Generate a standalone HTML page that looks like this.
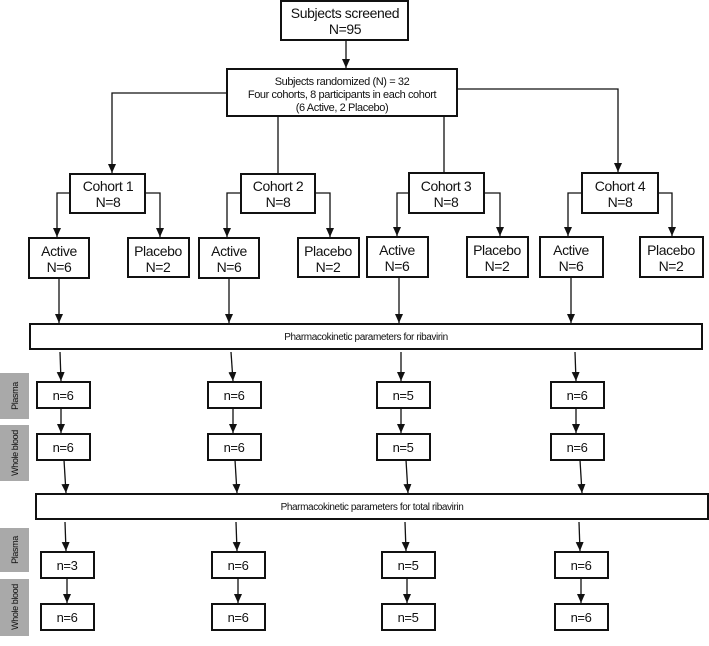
<!DOCTYPE html>
<html><head><meta charset="utf-8"><style>
html,body{margin:0;padding:0;background:#fff;}
svg text{font-family:"Liberation Sans Narrow","Liberation Sans",sans-serif;fill:#111;text-anchor:middle;letter-spacing:-0.4px;}
</style></head><body>
<svg width="709" height="641" viewBox="0 0 709 641" xmlns="http://www.w3.org/2000/svg">
<defs><marker id="a" markerWidth="9" markerHeight="8" refX="9" refY="4" orient="auto" markerUnits="userSpaceOnUse"><path d="M0,0 L9,4 L0,8 z" fill="#111"/></marker></defs>
<g fill="#fff" stroke="#111" stroke-width="2">
<rect x="281" y="1" width="127" height="39"/>
<rect x="227" y="69" width="230" height="47"/>
<rect x="70" y="174" width="75" height="39"/>
<rect x="241" y="174" width="74" height="39"/>
<rect x="409" y="173" width="75" height="40"/>
<rect x="582" y="173" width="76" height="40"/>
<rect x="29" y="238" width="60" height="40"/>
<rect x="128" y="238" width="61" height="39"/>
<rect x="199" y="238" width="60" height="40"/>
<rect x="298" y="238" width="61" height="39"/>
<rect x="367" y="237" width="61" height="40"/>
<rect x="467" y="237" width="61" height="40"/>
<rect x="540" y="237" width="63" height="40"/>
<rect x="640" y="237" width="63" height="40"/>
<rect x="30" y="324" width="672" height="25"/>
<rect x="36" y="494" width="672" height="25"/>
<rect x="37" y="382" width="53" height="26"/><rect x="208" y="382" width="53" height="26"/><rect x="377" y="382" width="53" height="26"/><rect x="551" y="382" width="53" height="26"/>
<rect x="37" y="434" width="53" height="26"/><rect x="208" y="434" width="53" height="26"/><rect x="377" y="434" width="53" height="26"/><rect x="551" y="434" width="53" height="26"/>
<rect x="41" y="552" width="53" height="26"/><rect x="212" y="552" width="53" height="26"/><rect x="382" y="552" width="53" height="26"/><rect x="555" y="552" width="53" height="26"/>
<rect x="41" y="604" width="53" height="26"/><rect x="212" y="604" width="53" height="26"/><rect x="382" y="604" width="53" height="26"/><rect x="555" y="604" width="53" height="26"/>
</g>
<g fill="#a9a9a9">
<rect x="0" y="373" width="29" height="46"/><rect x="0" y="425" width="29" height="56"/>
<rect x="0" y="528" width="29" height="44"/><rect x="0" y="579" width="29" height="57"/>
</g>
<g fill="none" stroke="#111" stroke-width="1.3">
<path d="M346 40 V68" marker-end="url(#a)"/>
<path d="M227 93 H112 V173" marker-end="url(#a)"/>
<path d="M457 89 H618 V172" marker-end="url(#a)"/>
<path d="M278 116 V174"/><path d="M444 116 V173"/>
<path d="M70 193 H57 V237" marker-end="url(#a)"/><path d="M145 193 H160 V237" marker-end="url(#a)"/>
<path d="M241 193 H227 V237" marker-end="url(#a)"/><path d="M315 193 H330 V237" marker-end="url(#a)"/>
<path d="M409 193 H397 V236" marker-end="url(#a)"/><path d="M484 193 H500 V236" marker-end="url(#a)"/>
<path d="M582 193 H568 V236" marker-end="url(#a)"/><path d="M658 193 H672 V236" marker-end="url(#a)"/>
<path d="M59 278 V323" marker-end="url(#a)"/><path d="M229 278 V323" marker-end="url(#a)"/>
<path d="M399 277 V323" marker-end="url(#a)"/><path d="M571 277 V323" marker-end="url(#a)"/>
<path d="M60 352 L61 381" marker-end="url(#a)"/><path d="M231 352 L233 381" marker-end="url(#a)"/>
<path d="M401 352 L401 381" marker-end="url(#a)"/><path d="M575 352 L576 381" marker-end="url(#a)"/>
<path d="M61 408 V433" marker-end="url(#a)"/><path d="M233 408 V433" marker-end="url(#a)"/>
<path d="M401 408 V433" marker-end="url(#a)"/><path d="M576 408 V433" marker-end="url(#a)"/>
<path d="M64 460 L66 493" marker-end="url(#a)"/><path d="M235 460 L237 493" marker-end="url(#a)"/>
<path d="M406 460 L408 493" marker-end="url(#a)"/><path d="M580 460 L582 493" marker-end="url(#a)"/>
<path d="M65 522 L66 551" marker-end="url(#a)"/><path d="M236 522 L237 551" marker-end="url(#a)"/>
<path d="M405 522 L406 551" marker-end="url(#a)"/><path d="M579 522 L580 551" marker-end="url(#a)"/>
<path d="M67 578 V603" marker-end="url(#a)"/><path d="M238 578 V603" marker-end="url(#a)"/>
<path d="M407 578 V603" marker-end="url(#a)"/><path d="M581 578 V603" marker-end="url(#a)"/>
</g>
<g font-size="14">
<text x="345" y="18">Subjects screened</text><text x="345" y="34">N=95</text>
<text x="108" y="191">Cohort 1</text><text x="108" y="207">N=8</text>
<text x="278" y="191">Cohort 2</text><text x="278" y="207">N=8</text>
<text x="446" y="191">Cohort 3</text><text x="446" y="207">N=8</text>
<text x="620" y="191">Cohort 4</text><text x="620" y="207">N=8</text>
<text x="59" y="256">Active</text><text x="59" y="272">N=6</text>
<text x="158" y="256">Placebo</text><text x="158" y="272">N=2</text>
<text x="229" y="256">Active</text><text x="229" y="272">N=6</text>
<text x="328" y="256">Placebo</text><text x="328" y="272">N=2</text>
<text x="397" y="255">Active</text><text x="397" y="271">N=6</text>
<text x="497" y="255">Placebo</text><text x="497" y="271">N=2</text>
<text x="571" y="255">Active</text><text x="571" y="271">N=6</text>
<text x="671" y="255">Placebo</text><text x="671" y="271">N=2</text>
</g>
<g font-size="11">
<text x="342" y="85">Subjects randomized (N) = 32</text>
<text x="342" y="98">Four cohorts, 8 participants in each cohort</text>
<text x="342" y="111">(6 Active, 2 Placebo)</text>
</g>
<g font-size="10">
<text x="366" y="340">Pharmacokinetic parameters for ribavirin</text>
<text x="372" y="510">Pharmacokinetic parameters for total ribavirin</text>
</g>
<g font-size="13">
<text x="63" y="400">n=6</text><text x="234" y="400">n=6</text><text x="403" y="400">n=5</text><text x="577" y="400">n=6</text>
<text x="63" y="452">n=6</text><text x="234" y="452">n=6</text><text x="403" y="452">n=5</text><text x="577" y="452">n=6</text>
<text x="67" y="570">n=3</text><text x="238" y="570">n=6</text><text x="408" y="570">n=5</text><text x="581" y="570">n=6</text>
<text x="67" y="622">n=6</text><text x="238" y="622">n=6</text><text x="408" y="622">n=5</text><text x="581" y="622">n=6</text>
</g>
<g font-size="9">
<text transform="translate(18,396) rotate(-90)">Plasma</text>
<text transform="translate(18,453) rotate(-90)">Whole blood</text>
<text transform="translate(18,550) rotate(-90)">Plasma</text>
<text transform="translate(18,607) rotate(-90)">Whole blood</text>
</g>
</svg>
</body></html>
